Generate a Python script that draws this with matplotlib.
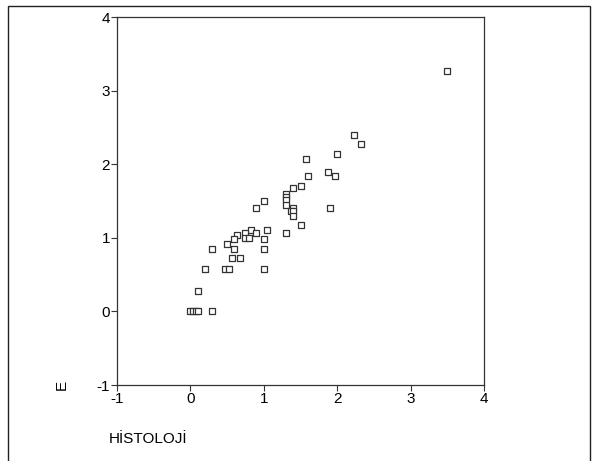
import matplotlib.pyplot as plt
from matplotlib.patches import Rectangle

plt.rcParams['font.family'] = ['Liberation Sans Narrow', 'Liberation Sans', 'DejaVu Sans']
plt.rcParams['axes.unicode_minus'] = False

# histoloji vs E values
histoloji = [3.5, 2.23, 2.33, 2.0, 1.57, 1.87, 1.97, 1.6, 1.5, 1.4,
             1.3, 1.3, 1.3, 1.3, 1.0, 0.9, 1.9, 1.4, 1.37, 1.4,
             1.4, 1.5, 1.3, 1.05, 0.83, 0.9, 0.75, 0.75, 0.8, 0.63,
             0.6, 1.0, 0.6, 1.0, 0.5, 0.3, 0.57, 0.67, 0.2, 0.47,
             0.53, 1.0, 0.1, 0.0, 0.04, 0.07, 0.1, 0.3]
e_values = [3.27, 2.4, 2.28, 2.14, 2.07, 1.9, 1.84, 1.84, 1.7, 1.67,
            1.6, 1.55, 1.51, 1.45, 1.5, 1.4, 1.4, 1.4, 1.37, 1.37,
            1.3, 1.18, 1.07, 1.1, 1.11, 1.07, 1.07, 1.0, 1.0, 1.04,
            0.98, 0.98, 0.85, 0.85, 0.91, 0.85, 0.73, 0.73, 0.58, 0.58,
            0.58, 0.58, 0.28, 0.0, 0.0, 0.0, 0.0, 0.0]
ticks = [-1, 0, 1, 2, 3, 4]

fig = plt.figure(figsize=(5.93, 4.61), dpi=100)
ax = fig.add_axes([117 / 593, 1 - 385 / 461, 367 / 593, 368 / 461])

ax.scatter(histoloji, e_values, marker='s', s=22, facecolors='white',
           edgecolors='#333333', linewidths=0.9, zorder=3)

ax.set_xlim(-1, 4)
ax.set_ylim(-1, 4)
ax.set_xticks(ticks)
ax.set_yticks(ticks)
ax.tick_params(direction='out', length=4, width=0.8, labelsize=11, pad=1,
               color='#333333')
for s in ax.spines.values():
    s.set_color('#333333')
    s.set_linewidth(0.9)

fig.text(62 / 593, 1 - 385 / 461, 'E', rotation=90, fontsize=11,
         ha='center', va='center')
fig.text(109 / 593, 1 - 439 / 461, 'HİSTOLOJİ', fontsize=11,
         ha='left', va='center')

# outer frame of the figure
fig.patches.append(Rectangle((8 / 593, -0.05), 582 / 593, 1.05 - 6 / 461,
                             transform=fig.transFigure, fill=False,
                             edgecolor='#222222', linewidth=1.0))

fig.savefig('out.png', dpi=100)
